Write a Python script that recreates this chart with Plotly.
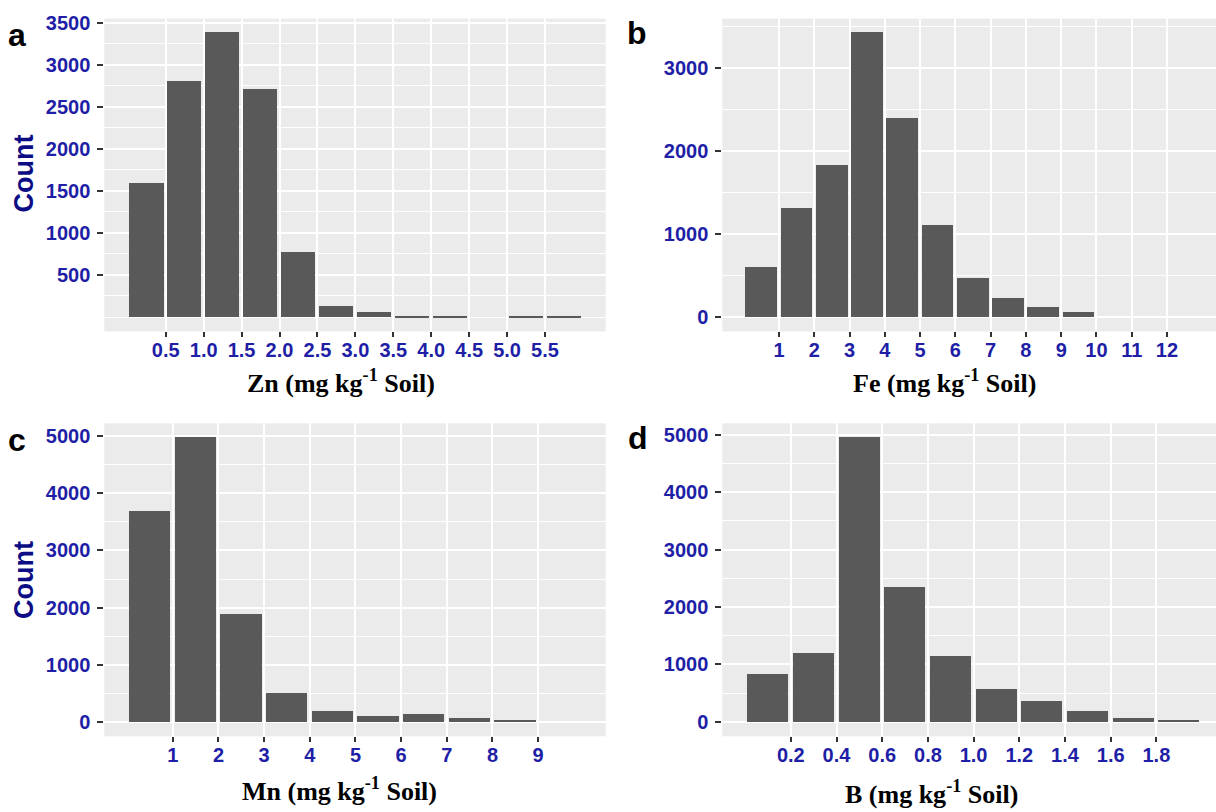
import plotly.graph_objects as go

# ---------------- data ----------------
zn_bins = [0.25, 0.75, 1.25, 1.75, 2.25, 2.75, 3.25, 3.75, 4.25, 4.75, 5.25, 5.75]
zn_counts = [1600, 2810, 3390, 2710, 780, 140, 65, 15, 15, 0, 15, 15]
zn_ticks = [0.5, 1.0, 1.5, 2.0, 2.5, 3.0, 3.5, 4.0, 4.5, 5.0, 5.5]
zn_ticklabels = ["0.5", "1.0", "1.5", "2.0", "2.5", "3.0", "3.5", "4.0", "4.5", "5.0", "5.5"]

fe_bins = [0.5, 1.5, 2.5, 3.5, 4.5, 5.5, 6.5, 7.5, 8.5, 9.5]
fe_counts = [610, 1315, 1835, 3430, 2400, 1110, 470, 230, 127, 68]
fe_ticks = [1, 2, 3, 4, 5, 6, 7, 8, 9, 10, 11, 12]
fe_ticklabels = [str(v) for v in fe_ticks]

mn_bins = [0.5, 1.5, 2.5, 3.5, 4.5, 5.5, 6.5, 7.5, 8.5]
mn_counts = [3690, 4985, 1885, 505, 185, 100, 127, 70, 35]
mn_ticks = [1, 2, 3, 4, 5, 6, 7, 8, 9]
mn_ticklabels = [str(v) for v in mn_ticks]

b_bins = [0.1, 0.3, 0.5, 0.7, 0.9, 1.1, 1.3, 1.5, 1.7, 1.9]
b_counts = [822, 1200, 4955, 2335, 1140, 560, 352, 178, 63, 34]
b_ticks = [0.2, 0.4, 0.6, 0.8, 1.0, 1.2, 1.4, 1.6, 1.8]
b_ticklabels = ["0.2", "0.4", "0.6", "0.8", "1.0", "1.2", "1.4", "1.6", "1.8"]

# ---------------- styling ----------------
W, H = 1216, 812
BAR = "#595959"
PANEL = "#EBEBEB"
TICKCOL = "#1e1ea6"
TICKFONT = dict(family="Liberation Sans, Arial, sans-serif",
                size=20, color=TICKCOL, weight="bold")

def px_x(a, b):
    return [a / W, min(b / W, 1.0)]

def px_y(top, bottom):
    return [1 - bottom / H, 1 - top / H]

panels = [
    dict(bins=zn_bins, counts=zn_counts, bw=0.5, xt=zn_ticks, xl=zn_ticklabels,
         xr=[-0.31, 6.3], yt=[500, 1000, 1500, 2000, 2500, 3000, 3500],
         ym=[0, 250, 750, 1250, 1750, 2250, 2750, 3250],
         yr=[-172, 3548], xd=px_x(104.3, 605.7), yd=px_y(11.7, 327.3)),
    dict(bins=fe_bins, counts=fe_counts, bw=1.0, xt=fe_ticks, xl=fe_ticklabels,
         xr=[-0.61, 13.39], yt=[0, 1000, 2000, 3000],
         ym=[500, 1500, 2500, 3500],
         yr=[-174, 3590], xd=px_x(722.3, 1216), yd=px_y(11.7, 327.3)),
    dict(bins=mn_bins, counts=mn_counts, bw=1.0, xt=mn_ticks, xl=mn_ticklabels,
         xr=[-0.5, 10.48], yt=[0, 1000, 2000, 3000, 4000, 5000],
         ym=[500, 1500, 2500, 3500, 4500],
         yr=[-252, 5222], xd=px_x(104.3, 605.7), yd=px_y(420, 735.7)),
    dict(bins=b_bins, counts=b_counts, bw=0.2, xt=b_ticks, xl=b_ticklabels,
         xr=[-0.1, 2.061], yt=[0, 1000, 2000, 3000, 4000, 5000],
         ym=[500, 1500, 2500, 3500, 4500],
         yr=[-252, 5200], xd=px_x(722.3, 1216), yd=px_y(420, 735.7)),
]

fig = go.Figure()
layout = dict(width=W, height=H, margin=dict(l=0, r=0, t=0, b=0),
              paper_bgcolor="white", plot_bgcolor=PANEL, showlegend=False,
              bargap=0)

for i, p in enumerate(panels):
    n = "" if i == 0 else str(i + 1)
    fig.add_trace(go.Bar(x=p["bins"], y=p["counts"], width=p["bw"] * 0.9,
                         marker=dict(color=BAR, line=dict(width=0)),
                         xaxis="x" + n, yaxis="y" + n, hoverinfo="skip"))
    layout["xaxis" + n] = dict(domain=p["xd"], anchor="y" + n, range=p["xr"],
                               tickmode="array", tickvals=p["xt"], ticktext=p["xl"],
                               showgrid=True, gridcolor="white", gridwidth=2,
                               zeroline=False, showline=False,
                               ticks="outside", ticklen=5, tickwidth=1.5, tickcolor="#333333",
                               tickfont=TICKFONT, ticklabelstandoff=-4, fixedrange=True)
    layout["yaxis" + n] = dict(domain=p["yd"], anchor="x" + n, range=p["yr"],
                               tickmode="array", tickvals=p["yt"],
                               ticktext=[str(v) for v in p["yt"]],
                               showgrid=True, gridcolor="white", gridwidth=2,
                               minor=dict(tickmode="array", tickvals=p["ym"], showgrid=True,
                                          gridcolor="white", gridwidth=1.3, ticks=""),
                               zeroline=False, showline=False,
                               ticks="outside", ticklen=6, tickwidth=1.5, tickcolor="#333333",
                               tickfont=TICKFONT, ticklabelstandoff=3, fixedrange=True)

fig.update_layout(**layout)

# ---------------- annotations ----------------
TITLEFONT = dict(family="Liberation Serif, Times New Roman, serif", size=26, color="black", weight="bold")
LETTERFONT = dict(family="Liberation Sans, Arial, sans-serif", size=32, color="black", weight="bold")
COUNTFONT = dict(family="Liberation Sans, Arial, sans-serif", size=27, color="#0c0c85", weight="bold")

def ann(text, x, y, font, angle=0):
    fig.add_annotation(text=text, x=x / W, y=1 - y / H, xref="paper", yref="paper",
                       xanchor="center", yanchor="middle", showarrow=False,
                       font=font, textangle=angle)

ann("Zn (mg kg<sup>-1</sup> Soil)", 341, 378, TITLEFONT)
ann("Fe (mg kg<sup>-1</sup> Soil)", 944, 378, TITLEFONT)
ann("Mn (mg kg<sup>-1</sup> Soil)", 339, 789, TITLEFONT)
ann("B (mg kg<sup>-1</sup> Soil)", 931, 792, TITLEFONT)

ann("Count", 24, 168, COUNTFONT, angle=-90)
ann("Count", 24, 578, COUNTFONT, angle=-90)

ann("a", 17, 28, LETTERFONT)
ann("b", 637, 26, LETTERFONT)
ann("c", 17, 437, LETTERFONT)
ann("d", 638, 435, LETTERFONT)

fig.write_html("out.html")
